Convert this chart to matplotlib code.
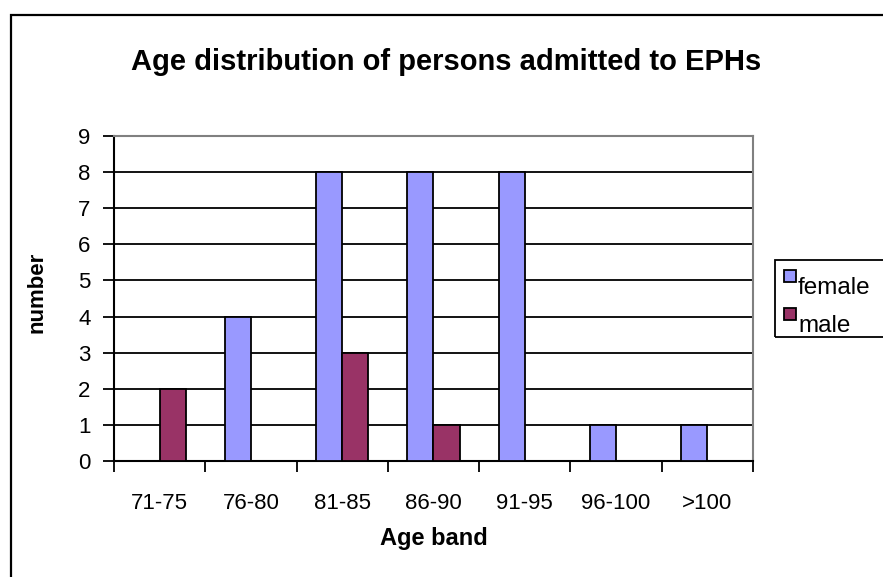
import matplotlib
matplotlib.use("Agg")
import matplotlib.pyplot as plt
import numpy as np
from matplotlib.patches import Rectangle

plt.rcParams['font.family'] = ['Liberation Sans', 'DejaVu Sans']

categories = ["71-75", "76-80", "81-85", "86-90", "91-95", "96-100", ">100"]
female = [0, 4, 8, 8, 8, 1, 1]
male = [2, 0, 3, 1, 0, 0, 0]
series_names = ["female", "male"]
colors = ["#9999FF", "#993366"]

W, H = 883, 577
fig = plt.figure(figsize=(W / 100, H / 100), dpi=100)


def fx(px):
    return px / W


def fy(py):
    return 1 - py / H


# outer chart border
fig.patches.append(Rectangle((fx(11), -0.05), 1.0, fy(15) + 0.05,
                             transform=fig.transFigure, fill=False,
                             edgecolor="black", linewidth=1.6, zorder=0))

left, right, top, bottom = 114, 753, 136, 461
ax = fig.add_axes([fx(left), fy(bottom), (right - left) / W, (bottom - top) / H])

n = len(categories)
x = np.arange(n)
bw = 1 / 3.5
ax.bar(x - bw / 2, female, width=bw, color=colors[0], edgecolor="black",
       linewidth=1.3, label=series_names[0], zorder=3)
ax.bar(x + bw / 2, male, width=bw, color=colors[1], edgecolor="black",
       linewidth=1.3, label=series_names[1], zorder=3)

ax.set_xlim(-0.5, n - 0.5)
ax.set_ylim(0, 9)
ax.set_yticks(range(0, 10))
ax.yaxis.grid(True, color="black", linewidth=1.3, zorder=1)
ax.set_axisbelow(True)

ax.set_xticks(np.arange(-0.5, n, 1.0))
ax.set_xticklabels([])
ax.set_xticks(x, minor=True)
ax.set_xticklabels(categories, minor=True, fontsize=16)
ax.tick_params(axis="x", which="major", direction="out", length=8, width=1.3)
ax.tick_params(axis="x", which="minor", length=0, pad=23)
ax.tick_params(axis="y", direction="out", length=8, width=1.3, labelsize=16, pad=9)

for s in ["left", "bottom"]:
    ax.spines[s].set_color("black")
    ax.spines[s].set_linewidth(1.5)
for s in ["top", "right"]:
    ax.spines[s].set_color("#808080")
    ax.spines[s].set_linewidth(1.5)

fig.text(fx(434), fy(538), "Age band", ha="center", va="center",
         fontsize=17, fontweight="bold")
fig.text(fx(37), fy(292), "number", ha="center", va="center",
         rotation=90, fontsize=16, fontweight="bold")

fig.text(fx(446), fy(62), "Age distribution of persons admitted to EPHs",
         ha="center", va="center", fontsize=21, fontweight="bold")

# legend box with square keys; labels sit slightly below each key
fig.patches.append(Rectangle((fx(775), fy(337)), 0.2, (337 - 260) / H,
                             transform=fig.transFigure, fill=False,
                             edgecolor="black", linewidth=1.3, zorder=2))
key_tops = [270, 308]
for name, color, ktop in zip(series_names, colors, key_tops):
    fig.patches.append(Rectangle((fx(784), fy(ktop + 12)), 12 / W, 12 / H,
                                 transform=fig.transFigure, facecolor=color,
                                 edgecolor="black", linewidth=1.3, zorder=3))
    fig.text(fx(798), fy(ktop + 24), name, ha="left", va="baseline",
             fontsize=17.5)

fig.savefig("out.png", dpi=100, facecolor="white")
